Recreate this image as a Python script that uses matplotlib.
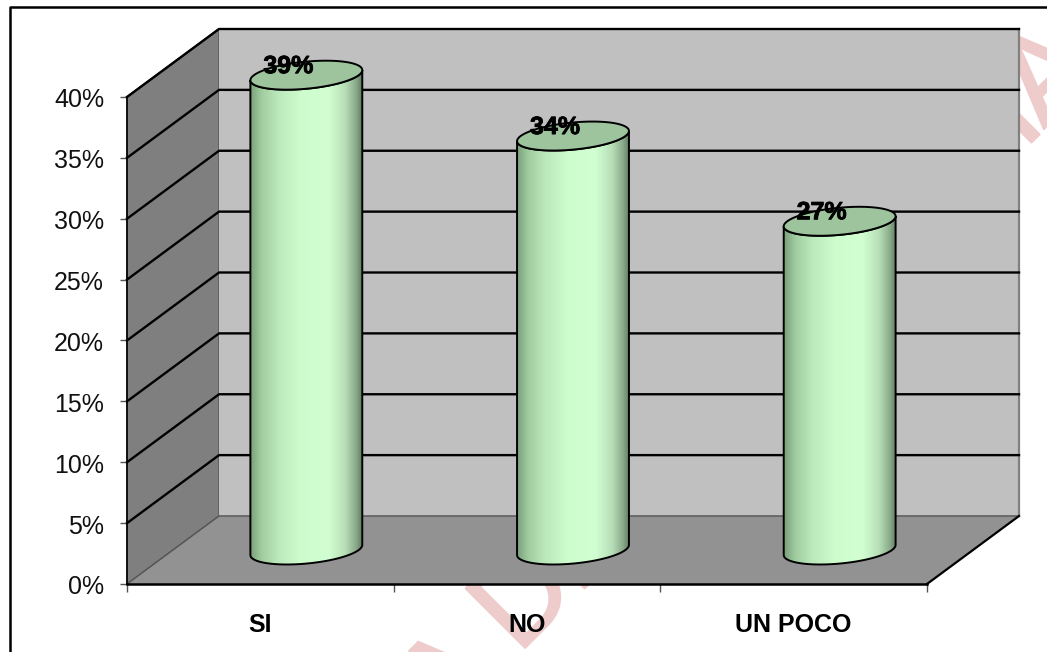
import numpy as np
import matplotlib
matplotlib.use("Agg")
import matplotlib.pyplot as plt
import matplotlib.patheffects as pe
from matplotlib.colors import LinearSegmentedColormap
from matplotlib.patches import Polygon
from matplotlib.ticker import FuncFormatter
from matplotlib.transforms import ScaledTranslation

plt.rcParams['font.family'] = ['Liberation Sans', 'DejaVu Sans']

categories = ['SI', 'NO', 'UN POCO']
values = [39, 34, 27]
value_labels = ['39%', '34%', '27%']
y_ticks = [0, 5, 10, 15, 20, 25, 30, 35, 40]

#3D look, in data units
depth_x = 0.345
depth_y = 5.585
radius_x = 0.1965
skew_x = 0.0735
skew_y = 1.19
y_top = 40

fig = plt.figure(figsize=(10.47, 6.52), dpi=100)
ax = fig.add_axes([0, 0, 1, 1])
x_unit = 800 / 3
y_unit = 487 / 40
xlim = (-127 / x_unit, (1047 - 127) / x_unit)
ylim = (-68 / y_unit, (652 - 68) / y_unit)
ax.patch.set_visible(False)

#Watermark behind the chart, only bits of it show around the plot
def mark(letter, px, py, ha='left'):
	ax.text(px / 1047, 1 - py / 652, letter, transform=fig.transFigure, ha=ha, va='baseline', rotation=45,
		rotation_mode='anchor', fontsize=88, color='#eecccc', zorder=0, clip_on=True,
		path_effects=[pe.withStroke(linewidth=1.5, foreground='#eecccc')])

mark('A', 473, 706, ha='center')
mark('D', 518, 655)
mark('E', 577.5, 595.5)
mark('I', 1035.5, 138.5, ha='center')
mark('A', 1072.5, 100.5, ha='center')

#Outer frame, it runs off the picture on the right and at the bottom
ax.plot([9.5 / 1047, 9.5 / 1047, 1], [0, 1 - 6.5 / 652, 1 - 6.5 / 652], transform=fig.transFigure,
	color='black', lw=1.8, zorder=1, clip_on=False)

#Walls and floor
n = len(categories)
ax.add_patch(Polygon([(0, 0), (depth_x, depth_y), (depth_x, y_top + depth_y), (0, y_top)],
	facecolor='#7f7f7f', edgecolor='#555555', lw=1, zorder=2))
ax.add_patch(Polygon([(depth_x, depth_y), (n + depth_x, depth_y), (n + depth_x, y_top + depth_y), (depth_x, y_top + depth_y)],
	facecolor='#c0c0c0', edgecolor='none', zorder=2))
ax.add_patch(Polygon([(0, 0), (n, 0), (n + depth_x, depth_y), (depth_x, depth_y)],
	facecolor='#929292', edgecolor='none', zorder=2))
ax.plot([0, depth_x], [0, depth_y], color='#555555', lw=1, zorder=3)
ax.plot([depth_x, n + depth_x], [depth_y, depth_y], color='#606060', lw=1.2, zorder=3)
ax.plot([0, depth_x, n + depth_x], [y_top, y_top + depth_y, y_top + depth_y], color='#404040', lw=1.4, zorder=3)
ax.plot([n + depth_x, n + depth_x], [depth_y, y_top + depth_y], color='#808080', lw=1.6, zorder=3)
ax.plot([n, n + depth_x], [0, depth_y], color='black', lw=1.6, zorder=3)

#Gridlines
for t in y_ticks[1:]:
	ax.plot([0, depth_x, n + depth_x], [t, t + depth_y, t + depth_y], color='black', lw=1.7, zorder=3)

#Cylinders
cyl_cmap = LinearSegmentedColormap.from_list('cyl', [
	(0.0, '#7a9f7a'), (0.1, '#a0cca0'), (0.25, '#bce9bc'), (0.45, '#cdfccd'),
	(0.7, '#d2ffd2'), (0.85, '#b8dfb8'), (0.95, '#8aa98a'), (1.0, '#627f62')])
gradient = np.linspace(0, 1, 256).reshape(1, -1)
half_w = np.hypot(radius_x, skew_x)
t0 = np.arctan2(skew_x, radius_x)

for i, v in enumerate(values):
	cx = i + 0.5 + depth_x / 2
	base = depth_y / 2
	top = base + v
	t = np.linspace(t0, t0 - np.pi, 60)
	ex = cx + radius_x * np.cos(t) + skew_x * np.sin(t)
	ey = skew_y * np.sin(t)
	body_x = np.r_[ex, ex[::-1]]
	body_y = np.r_[top + ey, base + ey[::-1]]
	im = ax.imshow(gradient, extent=(cx - half_w, cx + half_w, base - 2, top + 2), aspect='auto',
		cmap=cyl_cmap, zorder=4, interpolation='bilinear')
	outline = Polygon(np.c_[body_x, body_y], closed=True, facecolor='none', edgecolor='black', lw=1.4, zorder=5)
	ax.add_patch(outline)
	im.set_clip_path(outline)

	ta = np.linspace(0, 2 * np.pi, 120)
	ax.add_patch(Polygon(np.c_[cx + radius_x * np.cos(ta) + skew_x * np.sin(ta), top + skew_y * np.sin(ta)],
		closed=True, facecolor='#9dc49d', edgecolor='black', lw=1.4, zorder=6))
	ax.annotate(value_labels[i], (cx, top), xytext=(-18, 9), textcoords='offset pixels', ha='center', va='center',
		fontsize=18, fontweight='bold', color='black', zorder=7,
		path_effects=[pe.withStroke(linewidth=0.6, foreground='black')])

#Axes
ax.set_xlim(xlim)
ax.set_ylim(ylim)
for side in ['top', 'right']:
	ax.spines[side].set_visible(False)
ax.spines['left'].set_position(('data', 0))
ax.spines['left'].set_bounds(0, y_top)
ax.spines['left'].set_linewidth(1.2)
ax.spines['left'].set_zorder(8)
ax.spines['bottom'].set_position(('data', 0))
ax.spines['bottom'].set_bounds(0, n)
ax.spines['bottom'].set_linewidth(1.8)
ax.spines['bottom'].set_zorder(8)

ax.set_yticks(y_ticks)
ax.yaxis.set_major_formatter(FuncFormatter(lambda y, pos: '%d%%' % y))
ax.tick_params(axis='y', length=5, width=1, color='#555555', pad=11.5, labelsize=18, labelcolor='#111111')
for lab in ax.get_yticklabels():
	lab.set_transform(lab.get_transform() + ScaledTranslation(0, -1 / 100, fig.dpi_scale_trans))
ax.set_xticks(np.arange(n + 1))
ax.set_xticklabels([])
ax.tick_params(axis='x', which='major', length=5.5, width=1, color='#555555')
ax.set_xticks(np.arange(n) + 0.5, minor=True)
ax.set_xticklabels(categories, minor=True, fontweight='bold', fontsize=18, color='black')
ax.tick_params(axis='x', which='minor', length=0, pad=21)

fig.savefig('out.png', dpi=100)
